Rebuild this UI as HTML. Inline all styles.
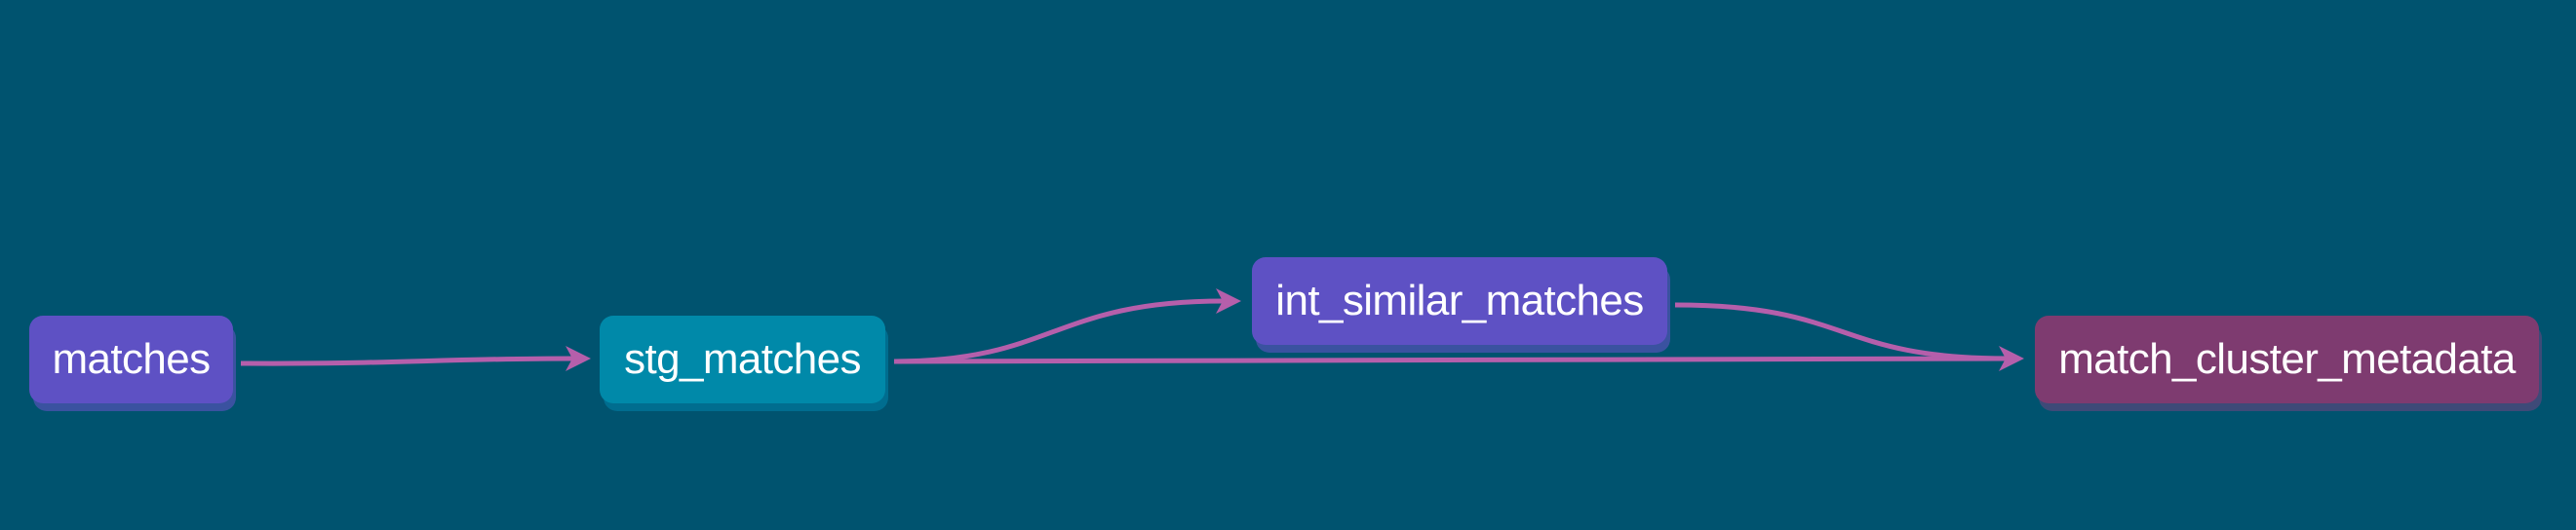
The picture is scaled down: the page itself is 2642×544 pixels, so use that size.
<!DOCTYPE html>
<html><head><meta charset="utf-8"><style>
html,body{margin:0;padding:0;background:#00536f;}
#c{position:relative;width:2642px;height:544px;overflow:hidden;background:#00536f;font-family:"Liberation Sans",sans-serif;}
.n{position:absolute;border-radius:14px;color:#fff;font-size:44px;display:flex;align-items:center;justify-content:center;letter-spacing:-0.6px}
svg{position:absolute;left:0;top:0}
</style></head><body>
<div id="c">
<svg width="2642" height="544">
<g fill="none" stroke="#b55fab" stroke-width="5">
<path d="M247 373 C400 374 450 368 590 368"/>
<path d="M917 371 C1080 371 1080 309 1255 309"/>
<path d="M917 371 L2060 368"/>
<path d="M1718 313 C1900 313 1880 368 2060 368"/>
</g>
<g fill="#b55fab">
<path d="M606 368 L580 355 L587 368 L580 381 Z"/>
<path d="M1273 309 L1247 296 L1254 309 L1247 322 Z"/>
<path d="M2076 368 L2050 355 L2057 368 L2050 381 Z"/>
</g>
</svg>
<div class="n" style="left:34px;top:333px;width:208px;height:89px;background:#3a52a0"></div>
<div class="n" style="left:30px;top:324px;width:209px;height:90px;background:#5e51c4">matches</div>
<div class="n" style="left:619px;top:333px;width:292px;height:89px;background:#006d8f"></div>
<div class="n" style="left:615px;top:324px;width:293px;height:90px;background:#0089a9">stg_matches</div>
<div class="n" style="left:1288px;top:273px;width:425px;height:89px;background:#3a52a0"></div>
<div class="n" style="left:1284px;top:264px;width:426px;height:90px;background:#5e51c4">int_similar_matches</div>
<div class="n" style="left:2091px;top:333px;width:516px;height:89px;background:#3e4a78"></div>
<div class="n" style="left:2087px;top:324px;width:517px;height:90px;background:#7e3b70">match_cluster_metadata</div>
</div>
</body></html>
